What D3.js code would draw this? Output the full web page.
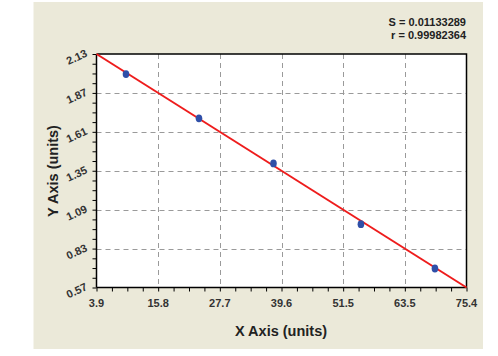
<!DOCTYPE html>
<html><head><meta charset="utf-8">
<script src="https://cdn.jsdelivr.net/npm/d3@7"></script>
<style>
html,body{margin:0;padding:0;background:#fff;}
svg{display:block;}
text{font-family:"Liberation Sans",Arial,sans-serif;font-weight:bold;}
</style></head><body>
<script>
const xValues = [9.6, 23.7, 38.1, 55.0, 69.3];
const yValues = [1.996, 1.700, 1.399, 0.993, 0.697];
const fitX = [3.9, 75.4];
const fitY = [2.13, 0.57];
const xTickLabels = ["3.9","15.8","27.7","39.6","51.5","63.5","75.4"];
const yTickLabels = ["0.57","0.83","1.09","1.35","1.61","1.87","2.13"];
const statLines = ["S = 0.01133289", "r = 0.99982364"];
const xTitle = "X Axis (units)";
const yTitle = "Y Axis (units)";

const W = 498, H = 356;
const svg = d3.select("body").append("svg").attr("width", W).attr("height", H);

svg.append("rect").attr("x", 33.5).attr("y", 2).attr("width", 449.5).attr("height", 347).attr("fill", "#ebe9d9");

const L = 96.5, T = 54, R = 466.5, B = 287.5;
svg.append("rect").attr("x", L).attr("y", T).attr("width", R - L).attr("height", B - T).attr("fill", "#fff");

const xMin = 3.9, xMax = 75.4, yMin = 0.57, yMax = 2.13;
const x = d3.scaleLinear().domain([xMin, xMax]).range([L, R]);
const y = d3.scaleLinear().domain([yMin, yMax]).range([B, T]);

const xMajor = xTickLabels.map((d, i) => xMin + i * (xMax - xMin) / 6);
const yMajor = yTickLabels.map((d, i) => yMin + i * (yMax - yMin) / 6);
const xMinor = d3.range(0, 25).map(i => xMin + i * (xMax - xMin) / 24);
const yMinor = d3.range(0, 25).map(i => yMin + i * (yMax - yMin) / 24);

// grid
const grid = svg.append("g").attr("stroke", "#9a9a9a").attr("stroke-width", 1).attr("stroke-dasharray", "5,4");
xMajor.slice(1, -1).forEach(v => grid.append("line").attr("x1", Math.round(x(v)) + 0.5).attr("x2", Math.round(x(v)) + 0.5).attr("y1", T).attr("y2", B));
yMajor.slice(1, -1).forEach(v => grid.append("line").attr("y1", Math.round(y(v)) + 0.5).attr("y2", Math.round(y(v)) + 0.5).attr("x1", L).attr("x2", R));

// border top & right
svg.append("path").attr("d", `M${L},${T}H${R}V${B}`).attr("fill", "none").attr("stroke", "#000").attr("stroke-width", 1.5);

// axes
const xAxis = d3.axisBottom(x).tickValues(xMinor).tickSize(4).tickFormat("");
const gx = svg.append("g").attr("transform", `translate(0,${B})`).call(xAxis);
const yAxis = d3.axisLeft(y).tickValues(yMinor).tickSize(4).tickFormat("");
const gy = svg.append("g").attr("transform", `translate(${L},0)`).call(yAxis);
[gx, gy].forEach(g => {
  g.select(".domain").attr("stroke", "#000").attr("stroke-width", 1.5);
  g.selectAll(".tick line").attr("stroke", "#000").attr("stroke-width", 1);
});
gx.select(".domain").attr("d", `M${L},0H${R}`);
gy.select(".domain").attr("d", `M0,${B}V${T}`);

// tick labels
svg.append("g").selectAll("text").data(xTickLabels).join("text")
  .attr("x", (d, i) => x(xMajor[i])).attr("y", 307)
  .attr("text-anchor", "middle").attr("font-size", 11).attr("fill", "#333")
  .text(d => d);
svg.append("g").selectAll("text").data(yTickLabels).join("text")
  .attr("transform", (d, i) => `translate(88,${y(yMajor[i]) + 2}) rotate(-25)`)
  .attr("text-anchor", "end").attr("font-size", 11).attr("fill", "#333")
  .text(d => d);

// fit line
svg.append("line")
  .attr("x1", x(fitX[0])).attr("y1", y(fitY[0]))
  .attr("x2", x(fitX[1])).attr("y2", y(fitY[1]))
  .attr("stroke", "#ee1c1c").attr("stroke-width", 2);

// points
svg.append("g").selectAll("ellipse").data(xValues).join("ellipse")
  .attr("cx", (d, i) => x(d)).attr("cy", (d, i) => y(yValues[i]))
  .attr("rx", 3.3).attr("ry", 3.9).attr("fill", "#2f4fa8");

// stats
svg.append("g").selectAll("text").data(statLines).join("text")
  .attr("x", 466).attr("y", (d, i) => 26 + i * 13)
  .attr("text-anchor", "end").attr("font-size", 11).attr("fill", "#222")
  .text(d => d);

// titles
svg.append("text").attr("x", 281).attr("y", 336).attr("text-anchor", "middle")
  .attr("font-size", 14.5).attr("fill", "#222").text(xTitle);
svg.append("text").attr("transform", "translate(58,171) rotate(-90)").attr("text-anchor", "middle")
  .attr("font-size", 14.5).attr("fill", "#222").text(yTitle);
</script>
</body></html>
